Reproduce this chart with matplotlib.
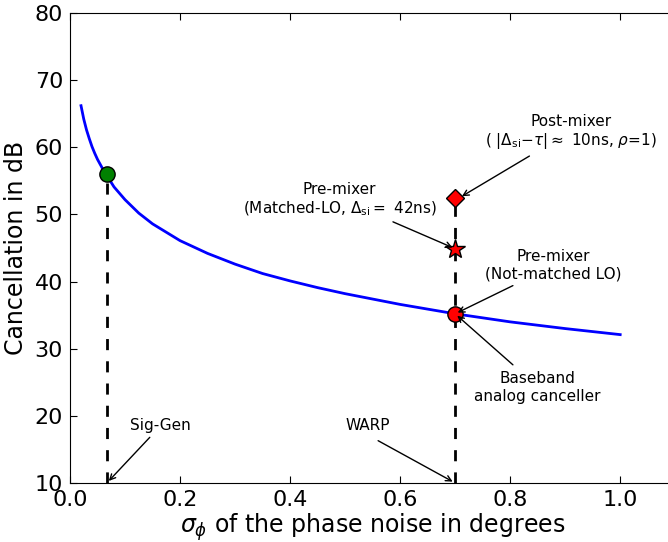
import matplotlib
matplotlib.use('Agg')
import matplotlib.pyplot as plt

# phase noise std (deg) vs cancellation (dB)
sigma = [0.02, 0.025, 0.03, 0.035, 0.04, 0.045, 0.05, 0.06, 0.067, 0.08, 0.1, 0.125,
         0.15, 0.2, 0.25, 0.3, 0.35, 0.4, 0.45, 0.5, 0.6, 0.7, 0.8, 0.9, 1.0]
cancel = [66.2, 64.2, 62.6, 61.3, 60.1, 59.1, 58.2, 56.7, 55.8, 54.1, 52.2, 50.2,
          48.6, 46.1, 44.2, 42.6, 41.2, 40.1, 39.1, 38.2, 36.6, 35.2, 34.0, 33.0, 32.1]

siggen = (0.067, 56.0)
warp_x = 0.7
baseband = 35.2
premix_matched = 44.9
postmix = 52.5

fig = plt.figure(figsize=(6.68, 5.42), dpi=100)
ax = fig.add_axes([0.1048, 0.1089, 0.906, 0.867])

ax.plot(sigma, cancel, color='blue', lw=2, zorder=2)

# dashed drop lines
ax.plot([siggen[0], siggen[0]], [10, siggen[1]], 'k--', lw=2, dashes=(4, 4), zorder=1)
ax.plot([warp_x, warp_x], [10, postmix], 'k--', lw=2, dashes=(4, 4), zorder=1)

ax.plot(siggen[0], siggen[1], 'o', color='green', mec='k', ms=11, zorder=3)
ax.plot(warp_x, baseband, 'o', color='red', mec='k', ms=11, zorder=3)
ax.plot(warp_x, premix_matched, '*', color='red', mec='k', ms=15, zorder=3)
ax.plot(warp_x, postmix, 'D', color='red', mec='k', ms=9, zorder=3)

arr = dict(arrowstyle='->', color='k', lw=1, shrinkA=0, shrinkB=2)
fs = 11

def note(txt, tx, ty):
    ax.text(tx, ty, txt, ha='center', va='center', fontsize=fs)

def arrow(tail, head):
    ax.annotate('', xy=head, xytext=tail, arrowprops=arr)

note('Sig-Gen', 0.164, 18.6)
arrow((0.145, 16.8), (siggen[0], 10))
note('WARP', 0.542, 18.6)
arrow((0.56, 16.3), (warp_x, 10))
note('Post-mixer\n( $|\\Delta_{\\rm si}{-}\\tau|\\approx$ 10ns, $\\rho$=1)', 0.91, 62.2)
arrow((0.835, 58.7), (warp_x + 0.008, postmix))
note('Pre-mixer\n(Matched-LO, $\\Delta_{\\rm si}=$ 42ns)', 0.49, 52.2)
arrow((0.587, 48.9), (warp_x, premix_matched))
note('Pre-mixer\n(Not-matched LO)', 0.878, 42.5)
arrow((0.805, 39.4), (warp_x, baseband))
note('Baseband\nanalog canceller', 0.849, 24.2)
arrow((0.805, 27.6), (warp_x, baseband))

ax.set_xlim(0, 1.1)
ax.set_ylim(10, 80)
ax.set_xticks([0.0, 0.2, 0.4, 0.6, 0.8, 1.0])
ax.tick_params(direction='in', top=True, right=True, labelsize=16, length=5, pad=5)
ax.set_xlabel('$\\sigma_\\phi$ of the phase noise in degrees', fontsize=17, labelpad=1)
ax.set_ylabel('Cancellation in dB', fontsize=17, labelpad=5)

fig.savefig('out.png', dpi=100)
